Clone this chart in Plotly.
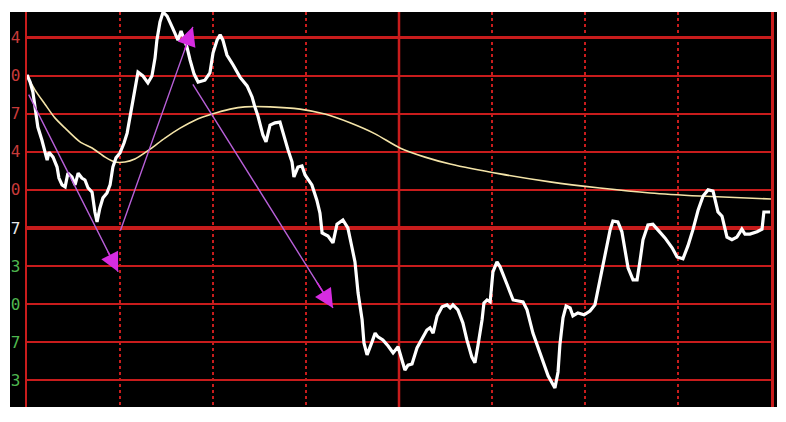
import plotly.graph_objects as go

# ---- data (time in minutes since open, price in grid steps from previous close) ----
time_min = [0, 1.0, 1.9, 2.6, 3.5, 4.8, 5.5, 6.5, 7.1, 8.4, 9.7, 10.3, 11.3, 12.3, 13.2, 14.5,
            15.5, 16.5, 17.7, 18.7, 19.7, 21.0, 21.9, 22.6, 23.5, 24.5, 25.8, 26.8, 27.7, 28.7,
            30.0, 31.3, 32.3, 33.2, 34.2, 34.8, 35.8, 37.4, 39.0, 40.3, 41.3, 41.9, 42.9, 43.9,
            45.2, 46.8, 47.7, 48.7, 49.7, 50.6, 51.6, 52.6, 53.9, 55.2, 57.4, 59.0, 60.0, 61.3,
            62.3, 63.2, 64.5, 66.5, 68.7, 71.0, 72.6, 73.5, 74.5, 76.1, 77.1, 78.4, 80.0, 81.6,
            82.6, 84.2, 85.5, 86.1, 87.4, 88.7, 89.7, 91.9, 93.5, 94.5, 95.2, 97.1, 98.7, 100.0,
            101.9, 103.5, 104.8, 105.8, 106.8, 108.1, 108.7, 109.7, 111.3, 112.3, 113.2, 114.8,
            116.5, 118.1, 119.7, 121.0, 121.9, 122.9, 124.2, 125.8, 127.7, 129.0, 130.0, 131.0,
            132.3, 133.9, 135.5, 136.5, 137.4, 139.0, 140.6, 141.9, 143.5, 144.5, 145.5, 146.8,
            147.4, 148.4, 149.4, 150.3, 151.6, 152.6, 154.8, 156.8, 160.0, 161.3, 163.2, 165.5,
            168.1, 170.3, 171.3, 171.9, 172.9, 173.9, 175.2, 176.1, 177.7, 179.7, 181.6, 183.2,
            184.2, 185.5, 186.8, 188.1, 189.0, 190.6, 191.9, 192.9, 193.9, 195.5, 196.8, 197.7,
            198.7, 200.3, 201.9, 203.5, 205.8, 208.1, 209.7, 211.6, 213.2, 214.8, 216.5, 218.1,
            219.7, 221.3, 222.3, 222.9, 224.2, 225.8, 227.4, 229.0, 230.6, 231.6, 233.2, 235.5,
            237.1, 237.7, 239.7]
price = [4.02, 3.83, 3.57, 3.18, 2.65, 2.31, 2.10, 1.78, 1.99, 1.86, 1.60, 1.31, 1.13, 1.08, 1.44, 1.34,
         1.13, 1.44, 1.31, 1.26, 1.05, 0.94, 0.42, 0.16, 0.52, 0.79, 0.92, 1.13, 1.60, 1.84,
         1.97, 2.23, 2.49, 2.91, 3.28, 3.67, 4.09, 3.99, 3.81, 3.99, 4.46, 4.93, 5.41, 5.67,
         5.56, 5.28, 5.12, 4.93, 5.17, 4.96, 4.75, 4.41, 4.04, 3.83, 3.88, 4.07, 4.59, 4.93,
         5.07, 4.93, 4.54, 4.28, 3.96, 3.73, 3.44, 3.18, 2.94, 2.44, 2.26, 2.70, 2.76, 2.78,
         2.49, 2.05, 1.73, 1.34, 1.60, 1.63, 1.39, 1.13, 0.73, 0.39, -0.13, -0.21, -0.39, 0.10,
         0.21, 0.0, -0.50, -0.89, -1.71, -2.41, -3.02, -3.33, -2.99, -2.76, -2.86, -2.94,
         -3.10, -3.28, -3.12, -3.46, -3.73, -3.60, -3.57, -3.15, -2.86, -2.68, -2.62, -2.76,
         -2.31, -2.07, -2.02, -2.10, -2.02, -2.15, -2.49, -2.94, -3.39, -3.54, -3.07, -2.41,
         -1.97, -1.89, -1.94, -1.15, -0.89, -1.02, -1.47, -1.89, -1.94, -2.15, -2.76, -3.28,
         -3.88, -4.20, -3.78, -3.07, -2.36, -2.05, -2.10, -2.31, -2.23, -2.28, -2.18, -2.02,
         -1.63, -1.15, -0.58, -0.05, 0.18, 0.16, -0.10, -0.52, -1.05, -1.36, -1.36, -0.89,
         -0.31, 0.08, 0.10, -0.05, -0.26, -0.52, -0.76, -0.81, -0.47, -0.05, 0.47, 0.84,
         1.00, 0.97, 0.66, 0.42, 0.31, -0.24, -0.31, -0.24, -0.03, -0.16, -0.16, -0.10,
         -0.03, 0.42, 0.42]

avg_time = [0, 2.6, 5.8, 9.0, 12.3, 17.1, 21.0, 25.2, 28.4, 31.6, 34.8, 39.7, 44.5, 49.4, 54.2,
            59.7, 65.5, 70.3, 78.4, 88.1, 96.1, 104.2, 112.3, 120.3, 128.4, 136.5, 152.6, 168.7,
            184.8, 201.0, 217.1, 240]
avg_price = [3.99, 3.62, 3.25, 2.89, 2.62, 2.26, 2.10, 1.86, 1.73, 1.73, 1.81, 2.07, 2.36, 2.62, 2.83,
             2.99, 3.12, 3.18, 3.18, 3.12, 2.99, 2.76, 2.47, 2.10, 1.86, 1.68, 1.42, 1.21,
             1.05, 0.92, 0.84, 0.76]

# arrows: tail -> head
arrow_tail_t = [0.3, 30.0, 53.2]
arrow_tail_v = [3.54, -0.10, 3.81]
arrow_head_t = [29.4, 53.5, 98.7]
arrow_head_v = [-1.15, 5.28, -2.10]

tick_vals = [5, 4, 3, 2, 1, 0, -1, -2, -3, -4]
tick_digits = ["4", "0", "7", "4", "0", "7", "3", "0", "7", "3"]
tick_colors = ["#c83a3a"] * 5 + ["#e8e8e8"] + ["#4fb84f"] * 4

solid_vlines = [120]

RED = "#c81c1c"

fig = go.Figure()

fig.add_trace(go.Scatter(x=avg_time, y=avg_price, mode="lines",
                         line=dict(color="#f4e4a8", width=1.6, shape="spline", smoothing=0.8),
                         hoverinfo="skip", showlegend=False))
fig.add_trace(go.Scatter(x=time_min, y=price, mode="lines",
                         line=dict(color="#ffffff", width=3.2),
                         hoverinfo="skip", showlegend=False))

# black panel extending under the tick labels
fig.add_shape(type="rect", xref="paper", yref="paper",
              x0=-17 / 744, x1=1 + 6 / 744, y0=0, y1=1,
              fillcolor="black", line=dict(width=0), layer="below")

for t in solid_vlines:
    fig.add_shape(type="line", xref="x", yref="paper", x0=t, x1=t, y0=0, y1=1,
                  line=dict(color=RED, width=2.5), layer="below")

for tt, tv, ht, hv in zip(arrow_tail_t, arrow_tail_v, arrow_head_t, arrow_head_v):
    fig.add_annotation(x=ht, y=hv, ax=tt, ay=tv, xref="x", yref="y", axref="x", ayref="y",
                       text="", showarrow=True, arrowhead=0, arrowwidth=1.4,
                       arrowcolor="#b860d8")
    bt = ht + 0.12 * (tt - ht)
    bv = hv + 0.12 * (tv - hv)
    fig.add_annotation(x=ht, y=hv, ax=bt, ay=bv, xref="x", yref="y", axref="x", ayref="y",
                       text="", showarrow=True, arrowhead=2, arrowsize=2.5, arrowwidth=1.5,
                       arrowcolor="#d62ce0")

tick_text = [f"<span style='color:{c}'>{d}</span>" for d, c in zip(tick_digits, tick_colors)]

# page body has an 8px margin: figure sits at (8, 8)
fig.update_layout(
    width=770, height=406,
    margin=dict(l=19, r=7, t=4, b=7),
    paper_bgcolor="white", plot_bgcolor="black",
    hovermode=False,
    xaxis=dict(range=[0, 240], dtick=30, tick0=0, showgrid=True, gridcolor=RED,
               gridwidth=1.6, griddash="dot", showticklabels=False, ticks="",
               zeroline=False, showline=False, fixedrange=True, automargin=False),
    yaxis=dict(range=[-4.70, 5.67], tickvals=tick_vals, ticktext=tick_text,
               showgrid=True, gridcolor=RED, gridwidth=2.2,
               zeroline=True, zerolinecolor=RED, zerolinewidth=3.5,
               showline=True, mirror=True, linecolor=RED, linewidth=2.5,
               ticks="", ticklabelstandoff=1, automargin=False,
               tickfont=dict(family="DejaVu Sans Mono", size=16),
               fixedrange=True),
)

fig.write_html("out.html", config={"displayModeBar": False, "staticPlot": True})
